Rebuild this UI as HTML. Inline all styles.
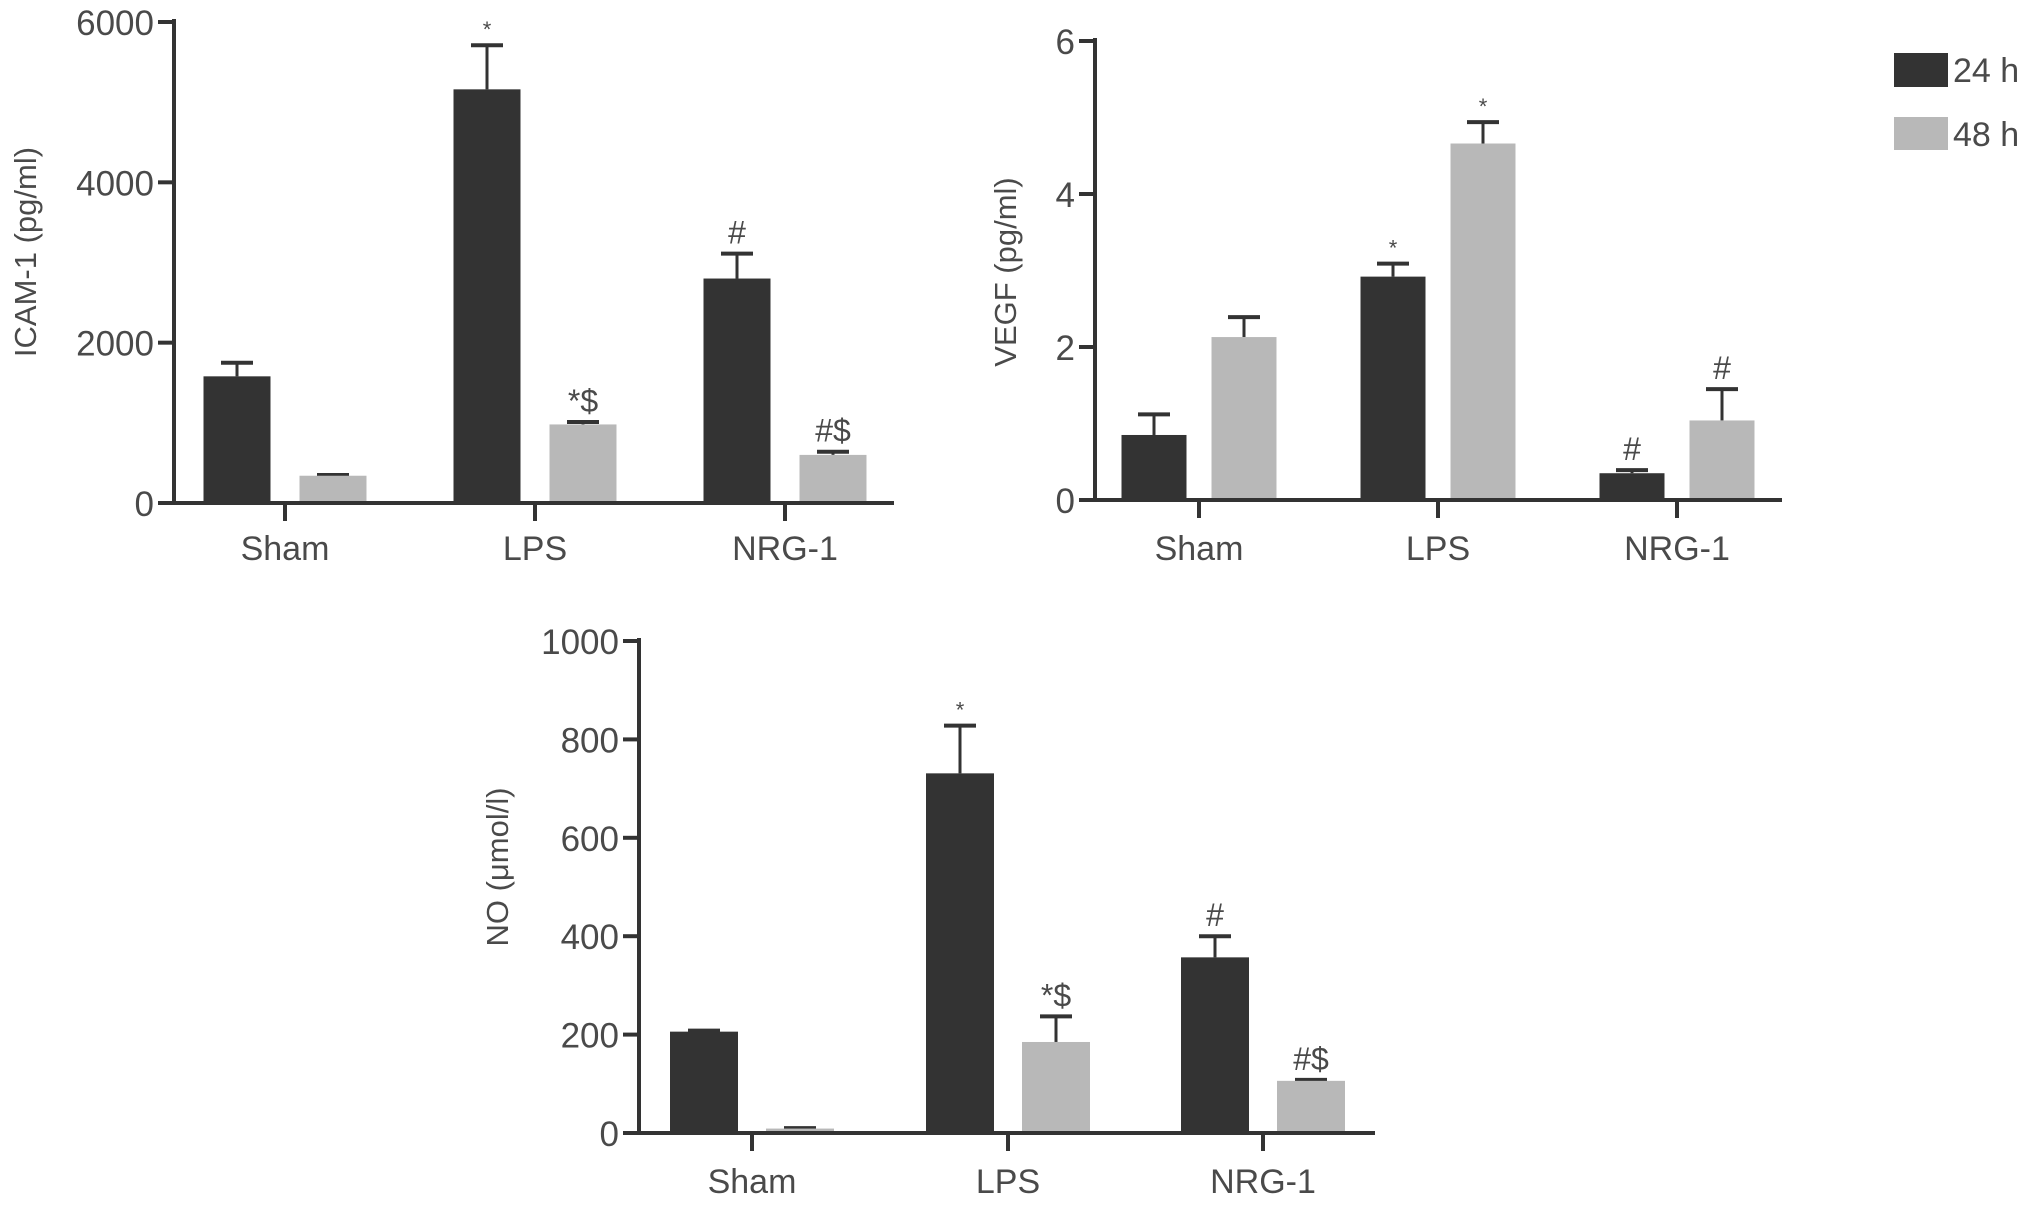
<!DOCTYPE html>
<html><head><meta charset="utf-8"><style>
body{margin:0;background:#fff;}
svg{display:block;font-family:"Liberation Sans",sans-serif;}
text{fill:#4a4a4a;}
</style></head><body>
<svg id="fig" width="2032" height="1206" viewBox="0 0 2032 1206">
<g>
<rect x="1894" y="53" width="54" height="34" fill="#333"/>
<text x="1953" y="82" font-size="34">24 h</text>
<rect x="1894" y="117" width="54" height="33" fill="#b8b8b8"/>
<text x="1953" y="146" font-size="34">48 h</text>
</g>
</svg>
<script>
const categories = ["Sham","LPS","NRG-1"];
const icam24 = [1580,5160,2800], icam24Err = [1750,5710,3110];
const icam48 = [340,980,600], icam48Err = [350,1010,640];
const icamTicks = [0,2000,4000,6000];
const icamAnn24 = ["","*","#"], icamAnn48 = ["","*$","#$"];
const vegf24 = [0.85,2.92,0.35], vegf24Err = [1.12,3.09,0.39];
const vegf48 = [2.13,4.66,1.04], vegf48Err = [2.39,4.94,1.45];
const vegfTicks = [0,2,4,6];
const vegfAnn24 = ["","*","#"], vegfAnn48 = ["","*","#"];
const no24 = [206,731,357], no24Err = [208,828,400];
const no48 = [9,185,106], no48Err = [10,237,108];
const noTicks = [0,200,400,600,800,1000];
const noAnn24 = ["","*","#"], noAnn48 = ["","*$","#$"];

const NS="http://www.w3.org/2000/svg";
const svg=document.getElementById('fig');
function mk(tag,attrs,parent){const e=document.createElementNS(NS,tag);for(const k in attrs)e.setAttribute(k,attrs[k]);parent.appendChild(e);return e;}

function chart(cfg){
  const g=mk('g',{},svg);
  
  
  const y=v=>cfg.y0+(cfg.y1-cfg.y0)*(v-cfg.ticks[0])/(cfg.ticks[cfg.ticks.length-1]-cfg.ticks[0]);
  categories.forEach((c,i)=>{
    const cx=cfg.centers[i];
    [[cfg.s24,cfg.e24,cfg.a24,-1,'#333','24h'],[cfg.s48,cfg.e48,cfg.a48,1,'#b8b8b8','48h']].forEach(([s,e,a,side,col,lab])=>{
      const bx=cx+side*cfg.off-cfg.bw/2;
      const bc=cx+side*cfg.off;
      const et=y(e[i]);
      const ln=mk('line',{x1:bc,x2:bc,y1:y(s[i]),y2:et,stroke:'#333','stroke-width':3},g);
      
      
      const cap=mk('line',{x1:bc-16,x2:bc+16,y1:et,y2:et,stroke:'#333','stroke-width':4},g);
      
      
      const r=mk('rect',{x:bx,y:y(s[i]),width:cfg.bw,height:cfg.y0-y(s[i]),fill:col},g);
      
      
      if(a[i]){
        const isStar=a[i]==='*';
        const t=mk('text',{x:bc,y:et-(isStar?8:10),'text-anchor':'middle','font-size':isStar?22:32},g);
        t.textContent=a[i];
        
        
      }
    });
    const tk=mk('line',{x1:cx,x2:cx,y1:cfg.y0,y2:cfg.y0+18,stroke:'#333','stroke-width':4},g);
    
    
    const tl=mk('text',{x:cx,y:cfg.labY,'text-anchor':'middle','font-size':34},g);
    tl.textContent=c;
    
    
  });
  const ya=mk('line',{x1:cfg.ax,x2:cfg.ax,y1:cfg.y1-3,y2:cfg.y0+2,stroke:'#333','stroke-width':4},g);
  
  
  const xa=mk('line',{x1:cfg.ax-15,x2:cfg.xEnd,y1:cfg.y0,y2:cfg.y0,stroke:'#333','stroke-width':4},g);
  
  
  cfg.ticks.forEach(v=>{
    const l=mk('line',{x1:cfg.ax-16,x2:cfg.ax,y1:y(v),y2:y(v),stroke:'#333','stroke-width':4},g);
    
    
    const t=mk('text',{x:cfg.ax-20,y:y(v)+13,'text-anchor':'end','font-size':35},g);
    t.textContent=v;
    
    
  });
  const tt=mk('text',{x:0,y:0,'text-anchor':'middle','font-size':31,transform:`translate(${cfg.titleX},${cfg.titleY}) rotate(-90)`},g);
  tt.textContent=cfg.title;
  
  
}
chart({name:'icam-chart',s24:icam24,e24:icam24Err,s48:icam48,e48:icam48Err,a24:icamAnn24,a48:icamAnn48,ticks:icamTicks,
  y0:503,y1:22,ax:174,xEnd:894,centers:[285,535,785],off:48,bw:67,labY:560,title:'ICAM-1 (pg/ml)',titleX:36,titleY:252});
chart({name:'vegf-chart',s24:vegf24,e24:vegf24Err,s48:vegf48,e48:vegf48Err,a24:vegfAnn24,a48:vegfAnn48,ticks:vegfTicks,
  y0:500,y1:41,ax:1095,xEnd:1782,centers:[1199,1438,1677],off:45,bw:65,labY:560,title:'VEGF (pg/ml)',titleX:1016,titleY:272});
chart({name:'no-chart',s24:no24,e24:no24Err,s48:no48,e48:no48Err,a24:noAnn24,a48:noAnn48,ticks:noTicks,
  y0:1133,y1:641,ax:639,xEnd:1375,centers:[752,1008,1263],off:48,bw:68,labY:1193,title:'NO (\u03bcmol/l)',titleX:508,titleY:867});
</script>
</body></html>
